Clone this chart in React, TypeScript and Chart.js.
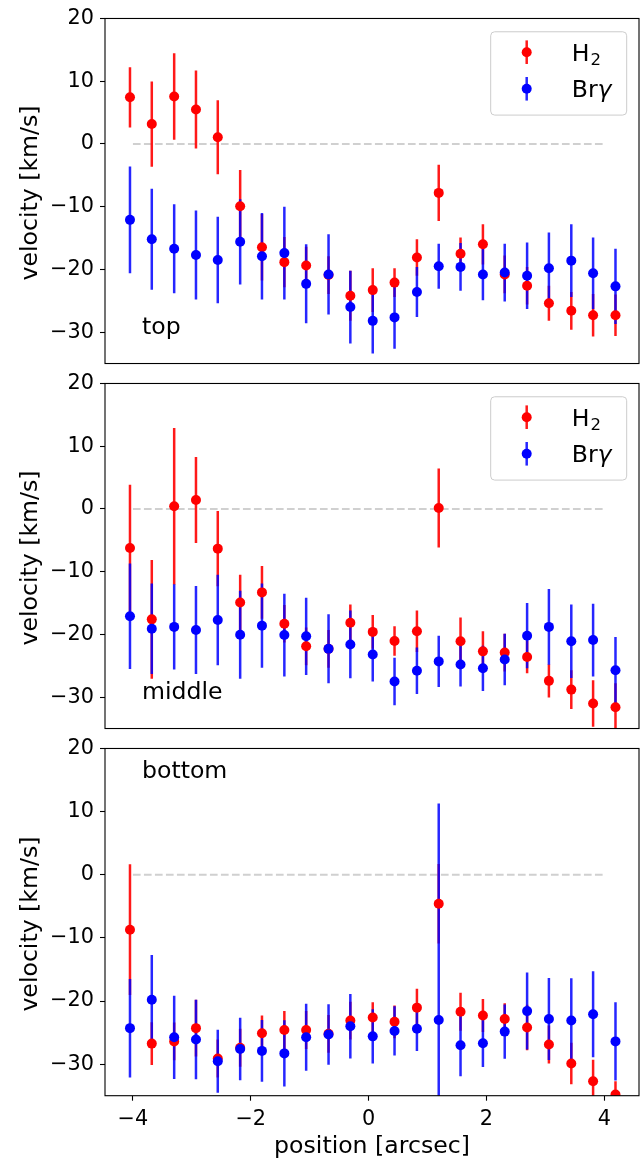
import React, { useEffect, useRef } from "react";
import { Chart, registerables } from "chart.js";

Chart.register(...registerables);

// ---------------- data ----------------
const positions = [
  -4.05, -3.68, -3.3, -2.93, -2.56, -2.18, -1.81, -1.43, -1.06, -0.68, -0.31, 0.07,
  0.44, 0.82, 1.19, 1.56, 1.94, 2.31, 2.69, 3.06, 3.44, 3.81, 4.19,
];

const topH2 = [
  7.44, 3.17, 7.55, 5.49, 1.06, -9.92, -16.46, -18.84, -19.37, -20.9, -24.2, -23.3,
  -22.1, -18.1, -7.8, -17.5, -16.0, -20.8, -22.6, -25.4, -26.6, -27.3, -27.3,
];
const topH2Err = [
  4.8, 6.8, 6.9, 6.2, 5.9, 5.75, 5.3, 4.0, 3.0, 3.0, 4.0, 3.5, 2.3, 2.9, 4.5, 2.6, 3.2,
  3.0, 3.0, 2.8, 3.0, 3.4, 3.3,
];
const topBrg = [
  -12.1, -15.2, -16.7, -17.7, -18.5, -15.6, -17.9, -17.4, -22.3, -20.8, -26.0, -28.2,
  -27.65, -23.6, -19.5, -19.6, -20.8, -20.5, -21.0, -19.8, -18.6, -20.6, -22.7,
];
const topBrgErr = [
  8.5, 8.05, 7.1, 7.1, 6.9, 6.8, 6.9, 7.4, 6.3, 6.4, 5.8, 5.2, 5.0, 4.0, 3.6, 3.8, 4.1,
  4.6, 5.3, 5.7, 5.8, 5.7, 6.0,
];

const midH2 = [
  -6.23, -17.6, 0.42, 1.42, -6.33, -14.9, -13.3, -18.3, -21.9, -22.3, -18.15, -19.6,
  -21.05, -19.5, 0.16, -21.1, -22.7, -22.9, -23.6, -27.4, -28.8, -31.0, -31.6,
];
const midH2Err = [
  10.1, 9.45, 12.5, 6.85, 6.0, 4.4, 4.2, 3.0, 3.0, 3.0, 2.9, 2.7, 2.35, 3.3, 6.3, 3.8,
  3.2, 3.0, 2.6, 2.65, 3.1, 3.7, 3.8,
];
const midBrg = [
  -17.1, -19.1, -18.8, -19.3, -17.7, -20.05, -18.6, -20.1, -20.3, -22.3, -21.6, -23.2,
  -27.5, -25.8, -24.3, -24.8, -25.4, -24.0, -20.2, -18.8, -21.1, -20.9, -25.7,
];
const midBrgErr = [
  8.4, 7.2, 6.8, 7.0, 7.2, 7.0, 6.7, 6.6, 6.15, 5.5, 5.4, 4.3, 3.8, 3.7, 4.1, 3.5, 3.6,
  4.1, 5.2, 6.05, 5.85, 5.8, 5.3,
];

const botH2 = [
  -8.7, -26.75, -26.4, -24.3, -29.1, -27.4, -25.1, -24.6, -24.6, -25.2, -23.1, -22.6,
  -23.3, -21.05, -4.6, -21.7, -22.3, -22.85, -24.2, -26.9, -29.9, -32.7, -34.8,
];
const botH2Err = [
  10.35, 3.4, 3.0, 4.5, 3.0, 3.0, 2.8, 3.0, 3.0, 3.0, 3.0, 2.4, 2.6, 3.0, 6.3, 3.0, 2.6,
  2.5, 3.6, 3.0, 3.3, 3.4, 2.1,
];
const botBrg = [
  -24.3, -19.8, -25.75, -26.1, -29.55, -27.6, -27.9, -28.3, -25.75, -25.3, -24.0, -25.6,
  -24.75, -24.4, -23.0, -27.0, -26.7, -24.85, -21.6, -22.85, -23.1, -22.1, -26.4,
];
const botBrgErr = [
  7.8, 7.1, 6.6, 6.3, 5.0, 4.95, 4.9, 5.25, 5.3, 4.8, 5.1, 4.3, 3.9, 3.5, 34.3, 4.9,
  3.75, 4.3, 6.1, 6.5, 6.7, 6.8, 6.2,
];

const panelNames = ["top", "middle", "bottom"];
const yTickValues = [-30, -20, -10, 0, 10, 20];
const xTickValues = [-4, -2, 0, 2, 4];
const yRange = [-35, 20];
const xRange = [-4.474, 4.589];
const zeroLineRange = [-4, 4];
const xTitle = "position [arcsec]";
const yTitle = "velocity [km/s]";

// ---------------- styling ----------------
const FONT = '"DejaVu Sans", sans-serif';
const RED = "#ff0000";
const BLUE = "#0000ff";
const RED_BAR = "rgba(255,0,0,0.9)";
const BLUE_BAR = "rgba(0,0,255,0.85)";
const BAR_W = 2.5;
const MARKER_R = 5;
const TICK_SIZE = 20.8;
const LABEL_SIZE = 23.6;
const LEGEND_SIZE = 23.6;
const W = 644;
const PLOT_LEFT = 105;
const PLOT_RIGHT = 640;
const PAD_TOP = 17.7;
const PLOT_H = 348;

const fmt = (v: number) => (v < 0 ? "\u2212" + Math.abs(v) : String(v));

const errorBarPlugin = {
  id: "errorBars",
  beforeDatasetsDraw(chart: any) {
    const { ctx, chartArea, scales } = chart;
    const xs = scales.x;
    const ys = scales.y;
    ctx.save();
    ctx.beginPath();
    ctx.rect(chartArea.left, chartArea.top, chartArea.right - chartArea.left, chartArea.bottom - chartArea.top);
    ctx.clip();
    // zero line
    ctx.setLineDash([7.7, 3.3]);
    ctx.strokeStyle = "#d0d0d0";
    ctx.lineWidth = 2.1;
    ctx.beginPath();
    ctx.moveTo(xs.getPixelForValue(zeroLineRange[0]), ys.getPixelForValue(0));
    ctx.lineTo(xs.getPixelForValue(zeroLineRange[1]), ys.getPixelForValue(0));
    ctx.stroke();
    ctx.setLineDash([]);
    // error bars: H2 first, then Brg
    chart.data.datasets.forEach((ds: any) => {
      ctx.strokeStyle = ds.barColor;
      ctx.lineWidth = BAR_W;
      ds.data.forEach((pt: any, i: number) => {
        const e = ds.errors[i];
        const px = xs.getPixelForValue(pt.x);
        ctx.beginPath();
        ctx.moveTo(px, ys.getPixelForValue(pt.y - e));
        ctx.lineTo(px, ys.getPixelForValue(pt.y + e));
        ctx.stroke();
      });
    });
    ctx.restore();
  },
  afterDraw(chart: any) {
    const { ctx, chartArea } = chart;
    const cfg = chart.options.plugins.panelDeco || {};
    const { left, right, top, bottom } = chartArea;
    ctx.save();
    // frame
    ctx.strokeStyle = "#000";
    ctx.lineWidth = 1.1;
    ctx.strokeRect(left, top, right - left, bottom - top);

    // panel label
    ctx.fillStyle = "#000";
    ctx.font = `${LABEL_SIZE}px ${FONT}`;
    ctx.textAlign = "left";
    ctx.textBaseline = "alphabetic";
    const ly = cfg.labelTop ? top + 29.3 : bottom - 29.3;
    ctx.fillText(cfg.label, left + 37, ly);

    // y title
    ctx.save();
    ctx.translate(37, (top + bottom) / 2 + 2);
    ctx.rotate(-Math.PI / 2);
    ctx.textAlign = "center";
    ctx.font = `${LABEL_SIZE}px ${FONT}`;
    ctx.fillText(yTitle, 0, 0);
    ctx.restore();

    // x title
    if (cfg.showX) {
      ctx.textAlign = "center";
      ctx.font = `${LABEL_SIZE}px ${FONT}`;
      ctx.fillText(xTitle, (left + right) / 2, bottom + 57);
    }

    // legend
    if (cfg.showLegend) {
      const bx = right - 148.3;
      const by = top + 13.3;
      ctx.beginPath();
      ctx.roundRect(bx, by, 136, 83.3, 4);
      ctx.fillStyle = "rgba(255,255,255,0.8)";
      ctx.fill();
      ctx.strokeStyle = "#cccccc";
      ctx.lineWidth = 1;
      ctx.stroke();
      const hx = right - 112.3;
      const rows = [
        { y: top + 33.7, color: RED, bar: RED_BAR },
        { y: top + 70.3, color: BLUE, bar: BLUE_BAR },
      ];
      rows.forEach((r) => {
        ctx.strokeStyle = r.bar;
        ctx.lineWidth = BAR_W;
        ctx.beginPath();
        ctx.moveTo(hx, r.y - 11.8);
        ctx.lineTo(hx, r.y + 11.8);
        ctx.stroke();
        ctx.fillStyle = r.color;
        ctx.beginPath();
        ctx.arc(hx, r.y, MARKER_R, 0, Math.PI * 2);
        ctx.fill();
      });
      const tx = right - 67.3;
      ctx.fillStyle = "#000";
      ctx.textAlign = "left";
      ctx.textBaseline = "alphabetic";
      // H_2
      const b1 = rows[0].y + 8.6;
      ctx.font = `${LEGEND_SIZE}px ${FONT}`;
      ctx.fillText("H", tx, b1);
      const hw = ctx.measureText("H").width;
      ctx.font = `${LEGEND_SIZE * 0.7}px ${FONT}`;
      ctx.fillText("2", tx + hw + 1, b1 + 4.5);
      // Br gamma
      const b2 = rows[1].y + 8.6;
      ctx.font = `${LEGEND_SIZE}px ${FONT}`;
      ctx.fillText("Br", tx, b2);
      const bw = ctx.measureText("Br").width;
      ctx.font = `italic ${LEGEND_SIZE}px ${FONT}`;
      ctx.fillText("\u03b3", tx + bw, b2);
    }
    ctx.restore();
  },
};

type PanelProps = {
  idx: number;
  h2: number[];
  h2Err: number[];
  brg: number[];
  brgErr: number[];
  top: number;
  height: number;
  showX: boolean;
  showLegend: boolean;
  labelTop: boolean;
};

function Panel(p: PanelProps) {
  const ref = useRef<HTMLCanvasElement | null>(null);
  useEffect(() => {
    if (!ref.current) return;
    const xAxisH = p.showX ? p.height - PAD_TOP - PLOT_H : 0;
    const padBottom = p.showX ? 0 : p.height - PAD_TOP - PLOT_H;
    const chart = new Chart(ref.current, {
      type: "scatter",
      data: {
        datasets: [
          {
            label: "H2",
            data: positions.map((x, i) => ({ x, y: p.h2[i] })),
            backgroundColor: RED,
            borderColor: RED,
            pointRadius: MARKER_R,
            pointHoverRadius: MARKER_R,
            pointBorderWidth: 0,
            order: 2,
            errors: p.h2Err,
            barColor: RED_BAR,
          } as any,
          {
            label: "Br\u03b3",
            data: positions.map((x, i) => ({ x, y: p.brg[i] })),
            backgroundColor: BLUE,
            borderColor: BLUE,
            pointRadius: MARKER_R,
            pointHoverRadius: MARKER_R,
            pointBorderWidth: 0,
            order: 1,
            errors: p.brgErr,
            barColor: BLUE_BAR,
          } as any,
        ],
      },
      options: {
        responsive: false,
        maintainAspectRatio: false,
        animation: false,
        devicePixelRatio: 1,
        events: [],
        layout: { padding: { top: PAD_TOP, bottom: padBottom, left: 0, right: W - PLOT_RIGHT } },
        plugins: {
          legend: { display: false },
          tooltip: { enabled: false },
          panelDeco: { label: panelNames[p.idx], showX: p.showX, showLegend: p.showLegend, labelTop: p.labelTop },
        } as any,
        scales: {
          x: {
            type: "linear",
            min: xRange[0],
            max: xRange[1],
            display: p.showX,
            afterBuildTicks: (s: any) => {
              s.ticks = xTickValues.map((v) => ({ value: v }));
            },
            afterFit: (s: any) => {
              s.height = xAxisH;
            },
            border: { display: false },
            grid: { display: true, drawOnChartArea: false, drawTicks: true, tickLength: 5, tickWidth: 1.1, tickColor: "#000" },
            ticks: {
              autoSkip: false,
              maxRotation: 0,
              color: "#000",
              padding: 6,
              font: { family: FONT, size: TICK_SIZE },
              callback: (v: any) => fmt(Number(v)),
            },
          },
          y: {
            type: "linear",
            min: yRange[0],
            max: yRange[1],
            afterBuildTicks: (s: any) => {
              s.ticks = yTickValues.map((v) => ({ value: v }));
            },
            afterFit: (s: any) => {
              s.width = PLOT_LEFT;
            },
            border: { display: false },
            grid: { display: true, drawOnChartArea: false, drawTicks: true, tickLength: 5, tickWidth: 1.1, tickColor: "#000" },
            ticks: {
              color: "#000",
              padding: 6,
              font: { family: FONT, size: TICK_SIZE },
              callback: (v: any) => fmt(Number(v)),
            },
          },
        },
      },
      plugins: [errorBarPlugin],
    } as any);
    return () => chart.destroy();
  }, []);
  return (
    <canvas
      ref={ref}
      width={W}
      height={p.height}
      style={{ position: "absolute", left: 0, top: p.top, width: W, height: p.height, display: "block" }}
    />
  );
}

export default function App() {
  return (
    <div style={{ position: "absolute", left: 0, top: 0, width: W, height: 1160, background: "#fff" }}>
      <Panel idx={0} h2={topH2} h2Err={topH2Err} brg={topBrg} brgErr={topBrgErr} top={0} height={382} showX={false} showLegend={true} labelTop={false} />
      <Panel idx={1} h2={midH2} h2Err={midH2Err} brg={midBrg} brgErr={midBrgErr} top={365} height={382} showX={false} showLegend={true} labelTop={false} />
      <Panel idx={2} h2={botH2} h2Err={botH2Err} brg={botBrg} brgErr={botBrgErr} top={730} height={430} showX={true} showLegend={false} labelTop={true} />
    </div>
  );
}
